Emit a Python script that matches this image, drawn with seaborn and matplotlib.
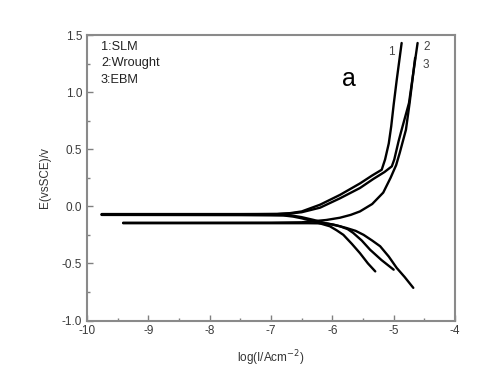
import numpy as np
import pandas as pd
import matplotlib
matplotlib.use("Agg")
import matplotlib.pyplot as plt
import seaborn as sns
from matplotlib.ticker import MultipleLocator, FormatStrFormatter

# ---- data (log I in A/cm^2, E vs SCE in V) ----
# 1: SLM
slm_cath_x = [-5.30, -5.42, -5.55, -5.68, -5.82, -5.93, -6.04, -6.20, -6.35, -6.50, -6.64, -6.80, -7.5, -8.5, -9.76]
slm_cath_y = [-0.57, -0.50, -0.41, -0.33, -0.25, -0.21, -0.175, -0.15, -0.125, -0.105, -0.09, -0.08, -0.077, -0.076, -0.075]
slm_anod_x = [-9.76, -8.5, -7.5, -6.9, -6.69, -6.5, -6.2, -5.875, -5.55, -5.35, -5.195, -5.14, -5.08, -5.04, -5.0, -4.95, -4.87]
slm_anod_y = [-0.068, -0.068, -0.068, -0.067, -0.06, -0.045, 0.014, 0.10, 0.20, 0.27, 0.32, 0.41, 0.55, 0.70, 0.89, 1.107, 1.43]

# 2: Wrought
wr_cath_x = [-4.68, -4.82, -4.95, -5.08, -5.22, -5.35, -5.49, -5.62, -5.77, -5.98, -6.10, -6.30, -6.50, -6.69, -7.0, -8.5, -9.76]
wr_cath_y = [-0.714, -0.62, -0.54, -0.44, -0.35, -0.30, -0.25, -0.215, -0.19, -0.16, -0.15, -0.12, -0.095, -0.078, -0.075, -0.075, -0.075]
wr_anod_x = [-9.76, -8.5, -7.5, -6.9, -6.69, -6.5, -6.2, -5.875, -5.55, -5.33, -5.15, -5.03, -4.99, -4.92, -4.87, -4.75, -4.61]
wr_anod_y = [-0.07, -0.07, -0.07, -0.068, -0.063, -0.052, -0.012, 0.07, 0.16, 0.24, 0.30, 0.35, 0.41, 0.57, 0.67, 0.905, 1.43]

# 3: EBM
ebm_cath_x = [-5.0, -5.2, -5.385, -5.52, -5.66, -5.75, -5.875, -6.09, -6.4, -7.0, -8.5, -9.41]
ebm_cath_y = [-0.555, -0.47, -0.38, -0.30, -0.233, -0.20, -0.175, -0.15, -0.148, -0.148, -0.148, -0.148]
ebm_anod_x = [-9.41, -8.5, -7.0, -6.5, -6.3, -6.1, -5.875, -5.7, -5.55, -5.35, -5.17, -5.05, -4.96, -4.90, -4.80, -4.74, -4.65]
ebm_anod_y = [-0.144, -0.144, -0.143, -0.14, -0.13, -0.12, -0.10, -0.075, -0.045, 0.02, 0.12, 0.25, 0.36, 0.47, 0.67, 0.905, 1.30]

legend_lines = ["1:SLM", "2:Wrought", "3:EBM"]
curve_tags = ["1", "2", "3"]
x_ticks = [-10, -9, -8, -7, -6, -5, -4]
y_ticks = [-1.0, -0.5, 0.0, 0.5, 1.0, 1.5]

# ---- build long table ----
frames = []
for name, cx, cy, ax_, ay_ in [
    ("SLM", slm_cath_x, slm_cath_y, slm_anod_x, slm_anod_y),
    ("Wrought", wr_cath_x, wr_cath_y, wr_anod_x, wr_anod_y),
    ("EBM", ebm_cath_x, ebm_cath_y, ebm_anod_x, ebm_anod_y),
]:
    frames.append(pd.DataFrame({"logI": cx, "E": cy, "curve": name + "_c"}))
    frames.append(pd.DataFrame({"logI": ax_, "E": ay_, "curve": name + "_a"}))
df = pd.concat(frames, ignore_index=True)

sns.set_style("ticks")
plt.rcParams["font.family"] = ["Liberation Sans", "DejaVu Sans"]
plt.rcParams["axes.unicode_minus"] = False

fig = plt.figure(figsize=(4.8, 3.75), dpi=100)
ax = fig.add_axes([87 / 480, 1 - 320.5 / 375, (455 - 87) / 480, (320.5 - 35) / 375])

sns.lineplot(data=df, x="logI", y="E", units="curve", estimator=None, sort=False,
             color="black", linewidth=1.7, ax=ax, legend=False)

ax.set_xlim(-10, -4)
ax.set_ylim(-1.0, 1.5)
ax.set_xticks(x_ticks)
ax.set_yticks(y_ticks)
ax.xaxis.set_minor_locator(MultipleLocator(0.5))
ax.yaxis.set_minor_locator(MultipleLocator(0.25))
ax.yaxis.set_major_formatter(FormatStrFormatter("%.1f"))
ax.tick_params(which="both", direction="in", color="#808080", labelsize=8.5, labelcolor="#3a3a3a")
ax.tick_params(which="major", length=4, width=1)
ax.tick_params(which="minor", length=2, width=1)
for s in ax.spines.values():
    s.set_color("#8a8a8a")
    s.set_linewidth(1.5)

ax.set_xlabel("log(I/Acm$^{-2}$)", fontsize=8.5, color="#333333", labelpad=8)
ax.set_ylabel("E(vsSCE)/v", fontsize=8.5, color="#333333", labelpad=8)

for i, t in enumerate(legend_lines):
    fig.text(101 / 480, 1 - (46.7 + i * 16.7) / 375, t, fontsize=9.2, color="#222222",
             va="center", ha="left")
fig.text(349 / 480, 1 - 79 / 375, "a", fontsize=18, color="black", va="center", ha="center")
tag_pos = [(391.5, 51.7), (427, 46.7), (426, 65)]
for t, (px, py) in zip(curve_tags, tag_pos):
    fig.text(px / 480, 1 - py / 375, t, fontsize=8.5, color="#444444", va="center", ha="center")

fig.savefig("out.png", dpi=100)
